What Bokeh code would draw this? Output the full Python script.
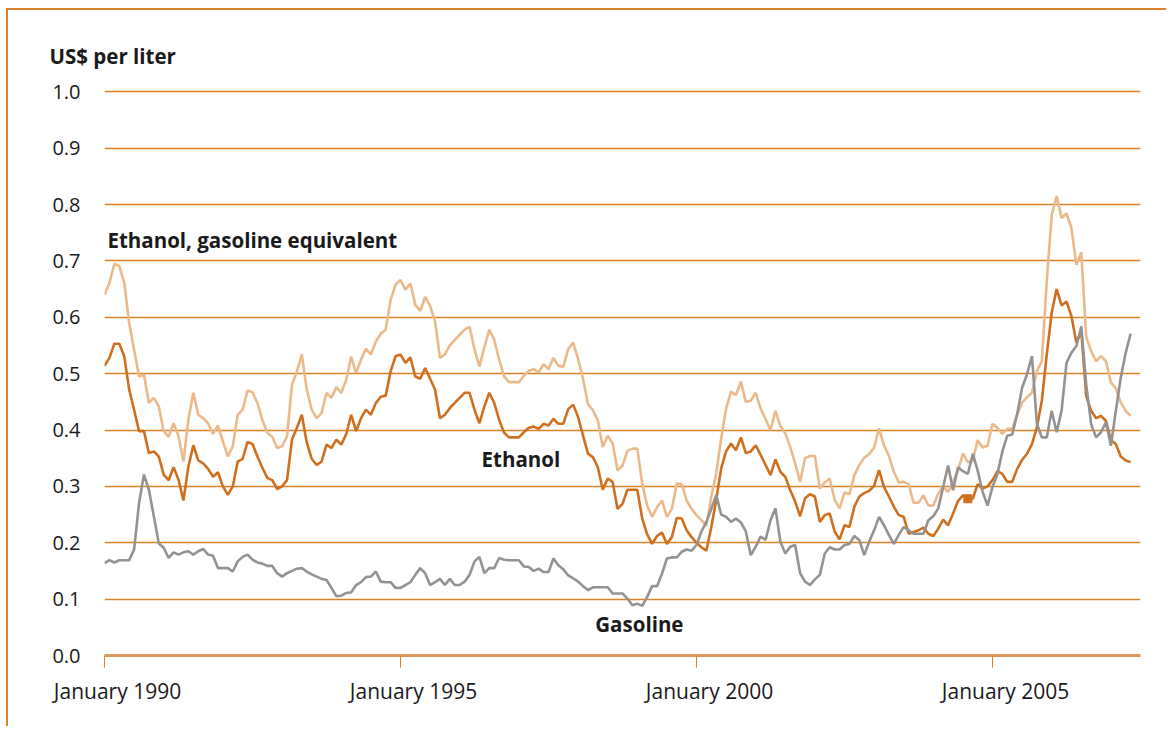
import numpy as np
from bokeh.plotting import figure
from bokeh.models import Range1d, FixedTicker, Label, LinearAxis
from bokeh.embed import file_html
from bokeh.resources import INLINE

# Monthly prices, US$ per liter, January 1990 onwards
ethanol = [
    0.514, 0.528, 0.553, 0.553, 0.531, 0.472, 0.436, 0.398, 0.398, 0.359,
    0.362, 0.353, 0.321, 0.311, 0.334, 0.312, 0.275, 0.335, 0.373, 0.346,
    0.341, 0.331, 0.317, 0.325, 0.300, 0.285, 0.300, 0.344, 0.349, 0.379,
    0.375, 0.353, 0.333, 0.315, 0.311, 0.295, 0.300, 0.311, 0.383, 0.404,
    0.427, 0.378, 0.349, 0.338, 0.344, 0.374, 0.368, 0.383, 0.374, 0.393,
    0.427, 0.398, 0.421, 0.436, 0.427, 0.448, 0.459, 0.461, 0.504, 0.531,
    0.534, 0.519, 0.529, 0.495, 0.491, 0.510, 0.491, 0.472, 0.421, 0.427,
    0.439, 0.448, 0.457, 0.466, 0.466, 0.436, 0.412, 0.442, 0.466, 0.448,
    0.418, 0.395, 0.387, 0.387, 0.387, 0.396, 0.404, 0.406, 0.402, 0.411,
    0.408, 0.420, 0.411, 0.411, 0.437, 0.445, 0.423, 0.390, 0.358, 0.352,
    0.334, 0.294, 0.314, 0.308, 0.260, 0.269, 0.294, 0.294, 0.294, 0.243,
    0.215, 0.198, 0.212, 0.218, 0.198, 0.210, 0.244, 0.243, 0.222, 0.210,
    0.200, 0.192, 0.186, 0.228, 0.276, 0.332, 0.362, 0.376, 0.364, 0.387,
    0.359, 0.362, 0.373, 0.356, 0.338, 0.320, 0.348, 0.326, 0.317, 0.293,
    0.273, 0.247, 0.279, 0.286, 0.282, 0.237, 0.249, 0.252, 0.220, 0.206,
    0.231, 0.228, 0.264, 0.282, 0.288, 0.292, 0.301, 0.329, 0.299, 0.282,
    0.264, 0.249, 0.246, 0.216, 0.219, 0.222, 0.227, 0.216, 0.212, 0.225,
    0.241, 0.231, 0.252, 0.274, 0.284, 0.278, 0.278, 0.304, 0.296, 0.300,
    0.311, 0.327, 0.322, 0.308, 0.308, 0.331, 0.347, 0.358, 0.375, 0.405,
    0.452, 0.534, 0.608, 0.650, 0.621, 0.628, 0.602, 0.555, 0.575, 0.460,
    0.434, 0.421, 0.425, 0.416, 0.382, 0.375, 0.353, 0.346, 0.343,
]

ethanol_gas_equiv = [
    0.640, 0.661, 0.695, 0.691, 0.661, 0.590, 0.543, 0.495, 0.498, 0.448,
    0.457, 0.442, 0.398, 0.388, 0.412, 0.389, 0.344, 0.418, 0.466, 0.427,
    0.421, 0.412, 0.393, 0.408, 0.380, 0.353, 0.371, 0.427, 0.436, 0.470,
    0.467, 0.448, 0.418, 0.395, 0.388, 0.368, 0.371, 0.389, 0.480, 0.504,
    0.534, 0.472, 0.436, 0.421, 0.430, 0.466, 0.457, 0.476, 0.466, 0.489,
    0.530, 0.501, 0.525, 0.544, 0.534, 0.557, 0.571, 0.578, 0.631, 0.658,
    0.666, 0.649, 0.660, 0.622, 0.611, 0.636, 0.620, 0.593, 0.528, 0.534,
    0.550, 0.560, 0.569, 0.578, 0.583, 0.543, 0.513, 0.547, 0.578, 0.560,
    0.525, 0.495, 0.485, 0.485, 0.485, 0.496, 0.505, 0.508, 0.502, 0.517,
    0.508, 0.528, 0.514, 0.512, 0.544, 0.555, 0.526, 0.491, 0.446, 0.435,
    0.417, 0.370, 0.390, 0.376, 0.328, 0.337, 0.363, 0.367, 0.367, 0.305,
    0.266, 0.246, 0.263, 0.275, 0.246, 0.260, 0.305, 0.304, 0.275, 0.260,
    0.249, 0.240, 0.230, 0.282, 0.323, 0.385, 0.438, 0.468, 0.462, 0.486,
    0.450, 0.452, 0.466, 0.438, 0.419, 0.400, 0.434, 0.407, 0.394, 0.370,
    0.341, 0.308, 0.350, 0.354, 0.354, 0.296, 0.307, 0.314, 0.276, 0.261,
    0.289, 0.286, 0.320, 0.338, 0.351, 0.357, 0.369, 0.403, 0.373, 0.354,
    0.326, 0.307, 0.308, 0.304, 0.271, 0.271, 0.284, 0.266, 0.266, 0.287,
    0.300, 0.290, 0.308, 0.328, 0.358, 0.343, 0.346, 0.382, 0.369, 0.372,
    0.411, 0.404, 0.393, 0.402, 0.402, 0.428, 0.449, 0.458, 0.466, 0.505,
    0.522, 0.664, 0.781, 0.815, 0.776, 0.784, 0.758, 0.693, 0.715, 0.565,
    0.540, 0.522, 0.531, 0.522, 0.484, 0.474, 0.449, 0.434, 0.425,
]

gasoline = [
    0.164, 0.169, 0.165, 0.169, 0.169, 0.169, 0.188, 0.270, 0.321, 0.294,
    0.247, 0.199, 0.191, 0.173, 0.183, 0.179, 0.183, 0.185, 0.179, 0.185,
    0.189, 0.179, 0.177, 0.155, 0.155, 0.155, 0.149, 0.167, 0.175, 0.179,
    0.170, 0.165, 0.163, 0.159, 0.159, 0.146, 0.140, 0.146, 0.150, 0.154,
    0.155, 0.149, 0.144, 0.140, 0.136, 0.134, 0.120, 0.105, 0.106, 0.111,
    0.112, 0.125, 0.130, 0.139, 0.140, 0.149, 0.131, 0.130, 0.130, 0.120,
    0.120, 0.125, 0.130, 0.143, 0.155, 0.146, 0.125, 0.130, 0.136, 0.125,
    0.136, 0.125, 0.125, 0.131, 0.143, 0.167, 0.175, 0.146, 0.155, 0.155,
    0.173, 0.170, 0.169, 0.169, 0.169, 0.158, 0.157, 0.150, 0.154, 0.148,
    0.148, 0.172, 0.160, 0.153, 0.142, 0.137, 0.131, 0.123, 0.116, 0.121,
    0.121, 0.121, 0.121, 0.110, 0.110, 0.110, 0.101, 0.089, 0.092, 0.088,
    0.104, 0.123, 0.123, 0.145, 0.172, 0.174, 0.174, 0.184, 0.188, 0.186,
    0.196, 0.220, 0.237, 0.260, 0.285, 0.250, 0.246, 0.237, 0.243, 0.236,
    0.220, 0.178, 0.193, 0.211, 0.205, 0.240, 0.261, 0.202, 0.181, 0.193,
    0.196, 0.146, 0.131, 0.125, 0.135, 0.143, 0.181, 0.192, 0.188, 0.188,
    0.196, 0.198, 0.212, 0.205, 0.178, 0.202, 0.222, 0.246, 0.231, 0.214,
    0.198, 0.214, 0.228, 0.222, 0.216, 0.216, 0.216, 0.240, 0.247, 0.261,
    0.299, 0.337, 0.293, 0.334, 0.327, 0.322, 0.358, 0.328, 0.290, 0.266,
    0.299, 0.322, 0.362, 0.390, 0.392, 0.428, 0.475, 0.499, 0.531, 0.411,
    0.387, 0.387, 0.434, 0.396, 0.434, 0.519, 0.537, 0.549, 0.584, 0.480,
    0.410, 0.387, 0.396, 0.414, 0.372, 0.434, 0.493, 0.537, 0.571,
]

start_year = 1990
tick_years = [1990, 1995, 2000, 2005]
tick_labels = ["January 1990", "January 1995", "January 2000", "January 2005"]
y_ticks = [0.0, 0.1, 0.2, 0.3, 0.4, 0.5, 0.6, 0.7, 0.8, 0.9, 1.0]
marked_month = 175  # small square marker visible on the ethanol series

months = np.arange(len(ethanol))
x = start_year + months / 12.0

ORANGE = "#D9822B"
DARK = "#D0701E"
LIGHT = "#EBB98A"
GREY = "#939393"
TEXT = "#1a1a1a"
FONT = "Open Sans"

p = figure(width=1160, height=718,
           x_range=Range1d(1990, 2007.5), y_range=Range1d(0, 1.02),
           output_backend="svg", toolbar_location=None,
           min_border_left=96, min_border_right=28,
           min_border_top=70, min_border_bottom=73)
p.outline_line_color = None
p.background_fill_color = "white"
p.border_fill_color = "white"
p.styles = {"border-top": "2px solid " + ORANGE,
            "border-left": "2px solid " + ORANGE,
            "margin-top": "8px", "margin-left": "6px"}

# title used as the unit caption
p.title.text = "US$ per liter"
p.title.align = "left"
p.title.offset = -55
p.title.standoff = 21
p.title.text_font = FONT
p.title.text_font_size = "20.5px"
p.title.text_font_style = "bold"
p.title.text_color = TEXT

# x axis: line + tick marks (no labels)
p.xaxis.ticker = FixedTicker(ticks=tick_years)
p.xaxis.major_label_overrides = {yr: "" for yr in tick_years}
p.xaxis.major_label_text_font_size = "1px"
p.xaxis.major_label_standoff = 0
p.xaxis.axis_line_color = "#DE9A5A"
p.xaxis.axis_line_width = 3
p.xaxis.major_tick_line_color = ORANGE
p.xaxis.major_tick_line_width = 1
p.xaxis.major_tick_out = 12
p.xaxis.major_tick_in = 0
p.xaxis.minor_tick_line_color = None

# second axis carrying the labels, set slightly right of each tick as in the original
label_shift = 0.22
label_pos = [round(t + label_shift, 2) for t in tick_years]
lab_axis = LinearAxis(ticker=FixedTicker(ticks=label_pos),
                      major_label_overrides={v: lab for v, lab in zip(label_pos, tick_labels)})
lab_axis.axis_line_color = None
lab_axis.major_tick_line_color = None
lab_axis.minor_tick_line_color = None
lab_axis.major_tick_out = 0
lab_axis.major_tick_in = 0
lab_axis.major_label_standoff = 9
lab_axis.major_label_text_font = FONT
lab_axis.major_label_text_font_size = "21px"
lab_axis.major_label_text_color = TEXT
p.add_layout(lab_axis, "below")

p.yaxis.ticker = FixedTicker(ticks=y_ticks)
p.yaxis.major_label_overrides = {v: f"{v:.1f}" for v in y_ticks}
p.yaxis.axis_line_color = None
p.yaxis.major_tick_line_color = None
p.yaxis.minor_tick_line_color = None
p.yaxis.major_label_standoff = 18
p.yaxis.major_label_text_font = FONT
p.yaxis.major_label_text_font_size = "20px"
p.yaxis.major_label_text_color = TEXT

p.xgrid.grid_line_color = None
p.ygrid.ticker = FixedTicker(ticks=y_ticks[1:])
p.ygrid.grid_line_color = ORANGE
p.ygrid.grid_line_width = 1.3

# series
p.line(x, ethanol_gas_equiv, line_color=LIGHT, line_width=2.6)
p.line(x, ethanol, line_color=DARK, line_width=2.6)
p.line(x, gasoline, line_color=GREY, line_width=2.6)
p.scatter([x[marked_month]], [ethanol[marked_month]], marker="square",
          size=8, color=DARK)

# texts
def add_label(xv, yv, txt):
    p.add_layout(Label(x=xv, y=yv, text=txt, text_font=FONT, text_font_size="20.5px",
                       text_font_style="bold", text_color=TEXT,
                       text_align="left", text_baseline="middle"))

add_label(1990.05, 0.737, "Ethanol, gasoline equivalent")
add_label(1996.37, 0.348, "Ethanol")
add_label(1998.29, 0.055, "Gasoline")

open("out.html", "w").write(file_html(p, INLINE))
